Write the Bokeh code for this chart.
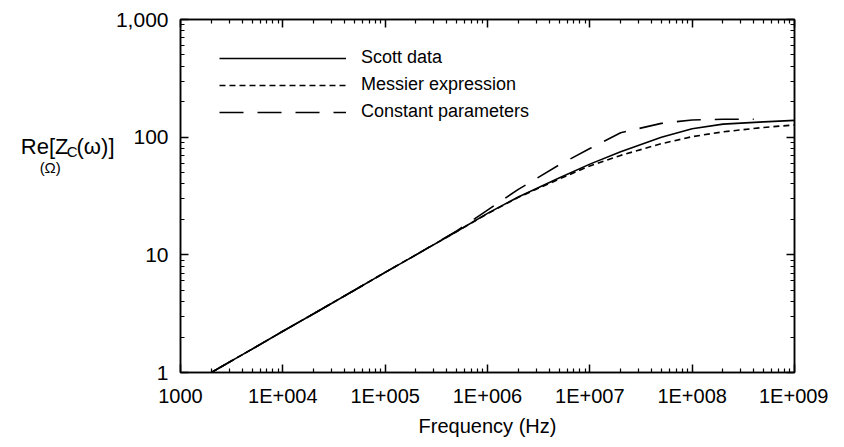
from bokeh.plotting import figure
from bokeh.models import (LogAxis, FixedTicker, Legend, LegendItem, Range1d)
from bokeh.embed import file_html
from bokeh.resources import INLINE

# ---- data ----
freq_scott = [2e3, 5e3, 1e4, 2e4, 5e4, 1e5, 2e5, 5e5, 1e6, 2e6, 5e6, 1e7, 2e7, 5e7, 1e8, 2e8, 5e8, 1e9]
z_scott    = [1.0, 1.58, 2.24, 3.16, 5.0, 7.1, 10.0, 15.8, 22.5, 31.0, 45.0, 59.0, 75.0, 100.0, 118.0, 129.0, 135.0, 139.0]
freq_messier = [2e3, 5e3, 1e4, 2e4, 5e4, 1e5, 2e5, 5e5, 1e6, 2e6, 5e6, 1e7, 2e7, 5e7, 1e8, 2e8, 5e8, 1e9]
z_messier    = [1.0, 1.58, 2.24, 3.16, 5.0, 7.1, 10.0, 15.8, 22.4, 30.8, 44.0, 57.0, 70.0, 88.0, 101.0, 111.0, 121.0, 127.0]
freq_const = [2e3, 5e3, 1e4, 2e4, 5e4, 1e5, 2e5, 5e5, 1e6, 2e6, 5e6, 1e7, 2e7, 5e7, 1e8, 2e8, 4e8]
z_const    = [1.0, 1.58, 2.24, 3.16, 5.0, 7.1, 10.0, 16.0, 24.0, 36.0, 58.0, 80.0, 109.0, 131.0, 140.0, 142.0, 142.0]

x_ticks = [1e3, 1e4, 1e5, 1e6, 1e7, 1e8, 1e9]
x_tick_labels = ["1000", "1E+004", "1E+005", "1E+006", "1E+007", "1E+008", "1E+009"]
y_ticks = [1, 10, 100, 1000]
y_tick_labels = ["1", "10", "100", "1,000"]

legend_labels = ["Scott data", "Messier expression", "Constant parameters"]

# y-axis title pieces: text and the y level (in axis units) at which each piece sits
NBSP = "\u00a0"
ytitle_main = ["(\u03c9)]"]                        # right part
ytitle_main_at = [84.0]
ytitle_sub = ["C", "(\u03a9)" + NBSP * 4]           # subscript and unit line
ytitle_sub_at = [76.0, 55.0]
ytitle_left = ["Re[Z"]                             # left part
ytitle_left_at = [84.0]

FONT = "Liberation Sans"

p = figure(width=828, height=439, x_axis_type="log", y_axis_type="log",
           x_range=Range1d(1e3, 1e9), y_range=Range1d(1, 1000),
           output_backend="svg", toolbar_location=None,
           min_border_left=180, min_border_right=34, min_border_top=19, min_border_bottom=66)
p.background_fill_color = "white"
p.border_fill_color = "white"
p.outline_line_color = "black"
p.outline_line_width = 1.5
p.xgrid.visible = False
p.ygrid.visible = False

r1 = p.line(freq_scott, z_scott, line_color="black", line_width=1.6)
r2 = p.line(freq_messier, z_messier, line_color="black", line_width=1.6, line_dash="6 4")
r3 = p.line(freq_const, z_const, line_color="black", line_width=1.6, line_dash="24 14")

def minors(ticks):
    return [m * d for d in ticks[:-1] for m in range(2, 10)]

def style_axis(ax, show_labels, size="20px"):
    ax.axis_line_color = "black"
    ax.axis_line_width = 1.5
    ax.major_tick_in = 8
    ax.major_tick_out = 0
    ax.minor_tick_in = 4
    ax.minor_tick_out = 0
    ax.major_tick_line_color = "black"
    ax.minor_tick_line_color = "black"
    ax.major_tick_line_width = 1.5
    ax.minor_tick_line_width = 1.2
    if show_labels:
        ax.major_label_text_font = FONT
        ax.major_label_text_font_size = size
        ax.major_label_text_color = "black"
    else:
        ax.major_label_text_font_size = "1px"
        ax.major_label_text_alpha = 0
        ax.major_label_standoff = 0

xa = p.xaxis[0]
xa.ticker = FixedTicker(ticks=x_ticks, minor_ticks=minors(x_ticks))
xa.major_label_overrides = {t: l for t, l in zip(x_ticks, x_tick_labels)}
style_axis(xa, True, "20px")
xa.major_label_standoff = 12
xa.axis_label = "Frequency (Hz)"
xa.axis_label_text_font = FONT
xa.axis_label_text_font_size = "20px"
xa.axis_label_text_font_style = "normal"
xa.axis_label_text_color = "black"
xa.axis_label_standoff = 5

ya = p.yaxis[0]
ya.ticker = FixedTicker(ticks=y_ticks, minor_ticks=minors(y_ticks))
ya.major_label_overrides = {t: l for t, l in zip(y_ticks, y_tick_labels)}
style_axis(ya, True, "21px")
ya.major_label_standoff = 12

top = LogAxis(ticker=FixedTicker(ticks=x_ticks, minor_ticks=minors(x_ticks)))
style_axis(top, False)
p.add_layout(top, "above")
right = LogAxis(ticker=FixedTicker(ticks=y_ticks, minor_ticks=minors(y_ticks)))
style_axis(right, False)
p.add_layout(right, "right")

# y-axis title: label-only axes stacked outward on the left (text is never clipped there)
def title_axis(texts, levels, size, standoff):
    ax = LogAxis(ticker=FixedTicker(ticks=levels, minor_ticks=[]),
                 major_label_overrides={t: s for t, s in zip(levels, texts)})
    ax.axis_line_color = None
    ax.major_tick_line_color = None
    ax.minor_tick_line_color = None
    ax.major_tick_in = 0
    ax.major_tick_out = 0
    ax.minor_tick_in = 0
    ax.minor_tick_out = 0
    ax.major_label_standoff = standoff
    ax.major_label_text_font = FONT
    ax.major_label_text_font_size = size
    ax.major_label_text_color = "black"
    p.add_layout(ax, "left")

title_axis(ytitle_main, ytitle_main_at, "22px", -2)
title_axis(ytitle_sub, ytitle_sub_at, "15px", -4)
title_axis(ytitle_left, ytitle_left_at, "22px", -32)

legend = Legend(items=[LegendItem(label=legend_labels[0], renderers=[r1]),
                       LegendItem(label=legend_labels[1], renderers=[r2]),
                       LegendItem(label=legend_labels[2], renderers=[r3])],
                location=(39, 250), margin=0, padding=0,
                glyph_width=127, glyph_height=20, label_height=20, spacing=6,
                label_standoff=15, border_line_alpha=0, background_fill_alpha=0,
                label_text_font=FONT, label_text_font_size="18px",
                label_text_color="black")
p.add_layout(legend)

open("out.html", "w").write(file_html(p, INLINE))
